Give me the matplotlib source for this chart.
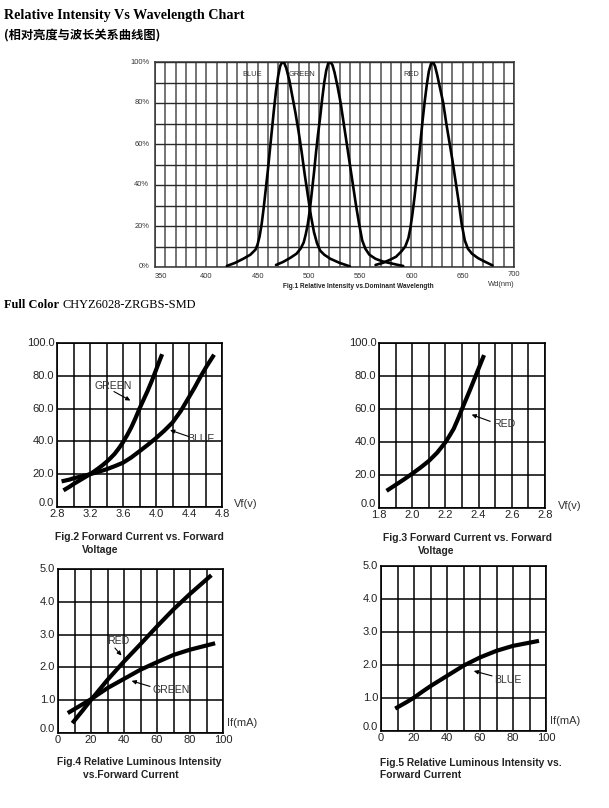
import matplotlib
matplotlib.use("Agg")
import matplotlib.pyplot as plt
import numpy as np

# ---------------- data ----------------
# Fig.1 relative intensity vs dominant wavelength
blue_wl = [420, 428, 436, 443, 448, 450, 452, 454, 456, 458, 460, 462, 464, 466, 468, 470, 472, 474, 476, 478, 481, 484, 487, 490, 493, 496, 499, 502, 505, 508, 511, 515, 521, 530, 540]
blue_int = [0.5, 2, 4, 6, 8.5, 11, 15, 21, 29, 38, 47, 57, 67, 77, 86, 93, 98, 100, 99.5, 97, 91, 83, 75, 66, 56, 45, 35, 25, 17, 11.5, 8, 6, 4, 2, 0.3]
green_wl = [468, 475, 482, 488, 492, 495, 497, 499, 501, 503, 505, 507, 509, 511, 513, 515, 517, 519, 521, 523, 525, 528, 531, 534, 537, 540, 543, 546, 549, 552, 555, 559, 565, 572, 580, 587, 592]
green_int = [1, 2.5, 4.5, 6.5, 9, 12, 16, 21, 28, 37, 46, 56, 65, 73, 82, 90, 96, 99.5, 100, 98.5, 95, 88, 80, 70, 60, 50, 40, 30, 21, 13, 9, 6, 4, 2.7, 1.8, 1, 0.5]
red_wl = [565, 572, 579, 585, 590, 594, 597, 599, 601, 603, 605, 607, 609, 611, 613, 615, 617, 619, 621, 623, 625, 628, 631, 634, 637, 640, 643, 646, 649, 652, 655, 659, 665, 672, 679]
red_int = [1, 2, 3.5, 5, 7.5, 10, 14, 19, 26, 34, 43, 52, 62, 72, 81, 89, 95.5, 99, 100, 98, 94, 87, 80, 70, 61, 52, 42, 32, 21, 13, 9, 6.5, 4.3, 2.5, 0.8]
fig1_xticks = [350, 400, 450, 500, 550, 600, 650, 700]
fig1_yticks = [0, 20, 40, 60, 80, 100]
fig1_ylabels = ["0%", "20%", "40%", "60%", "80%", "100%"]

# Fig.2 forward current vs forward voltage (green, blue)
f2_green_v = [2.90, 2.95, 3.00, 3.05, 3.10, 3.15, 3.20, 3.25, 3.30, 3.35, 3.40, 3.45, 3.50, 3.55, 3.60, 3.65, 3.70, 3.75, 3.80, 3.85, 3.90, 3.95, 4.00, 4.03, 4.065]
f2_green_i = [10.8, 12.3, 14.0, 15.5, 17.0, 18.5, 20.0, 21.7, 23.5, 25.4, 27.5, 29.9, 32.5, 35.8, 39.5, 43.8, 48.5, 54.0, 60.0, 65.5, 71.0, 77.0, 83.5, 87.5, 92.0]
f2_blue_v = [2.88, 2.95, 3.00, 3.10, 3.20, 3.30, 3.40, 3.50, 3.60, 3.70, 3.80, 3.90, 4.00, 4.10, 4.20, 4.30, 4.40, 4.47, 4.54, 4.61, 4.69]
f2_blue_i = [15.9, 16.7, 17.5, 18.7, 20.0, 21.4, 23.0, 24.9, 27.0, 30.2, 34.0, 37.9, 42.0, 46.5, 51.5, 58.5, 67.0, 73.0, 79.5, 85.5, 91.8]
f2_xticks = [2.8, 3.2, 3.6, 4.0, 4.4, 4.8]
f2_yticks = [0, 20, 40, 60, 80, 100]

# Fig.3 forward current vs forward voltage (red)
f3_red_v = [1.856, 1.90, 1.95, 2.00, 2.05, 2.10, 2.15, 2.20, 2.225, 2.25, 2.275, 2.30, 2.325, 2.35, 2.37, 2.39, 2.41, 2.428]
f3_red_i = [11.1, 14.0, 17.3, 20.8, 24.5, 28.5, 33.5, 39.8, 43.8, 48.0, 53.8, 60.0, 66.0, 72.0, 77.0, 82.0, 87.0, 91.5]
f3_xticks = [1.8, 2.0, 2.2, 2.4, 2.6, 2.8]

# Fig.4 relative luminous intensity vs forward current (red, green)
f4_red_if = [9.5, 15, 20, 30, 40, 50, 60, 70, 80, 92]
f4_red_lv = [0.35, 0.69, 1.01, 1.62, 2.18, 2.71, 3.25, 3.77, 4.24, 4.77]
f4_green_if = [7, 10, 15, 20, 25, 30, 40, 50, 60, 70, 80, 94]
f4_green_lv = [0.64, 0.73, 0.88, 1.03, 1.20, 1.37, 1.65, 1.93, 2.16, 2.38, 2.54, 2.72]
f45_xticks = [0, 20, 40, 60, 80, 100]
f45_yticks = [0, 1, 2, 3, 4, 5]

# Fig.5 relative luminous intensity vs forward current (blue)
f5_blue_if = [9.7, 15, 20, 25, 30, 40, 50, 60, 70, 80, 94.5]
f5_blue_lv = [0.71, 0.86, 1.01, 1.19, 1.36, 1.67, 1.98, 2.23, 2.43, 2.58, 2.72]

# ---------------- figure ----------------
W, H = 609, 808
fig = plt.figure(figsize=(W / 100, H / 100), dpi=100)
fig.patch.set_facecolor("white")
renderer = fig.canvas.get_renderer()

SERIF = ["Liberation Serif", "DejaVu Serif"]
SANS = ["Liberation Sans", "DejaVu Sans"]

def px_axes(x0, y0, x1, y1):
    return fig.add_axes([x0 / W, 1 - y1 / H, (x1 - x0) / W, (y1 - y0) / H])

def ftext(x, y, s, **kw):
    return fig.text(x / W, 1 - y / H, s, **kw)

# headings
ftext(4, 15, "Relative Intensity Vs Wavelength Chart", family=SERIF, weight="bold",
      fontsize=10.2, va="center", ha="left")
ftext(4, 35, "(相对亮度与波长关系曲线图)", family=["Noto Sans CJK SC", "DejaVu Sans"],
      weight="bold", fontsize=8.8, va="center", ha="left")
t_fc = ftext(4, 305.5, "Full Color", family=SERIF, weight="bold", fontsize=8.9,
             va="center", ha="left")
fc_right = t_fc.get_window_extent(renderer=renderer).x1
ftext(fc_right + 3.5, 305.5, "CHYZ6028-ZRGBS-SMD", family=SERIF, fontsize=8.9,
      va="center", ha="left")

# ---------------- Fig.1 ----------------
ax1 = px_axes(155, 62, 514, 267)
ax1.set_xlim(350, 700)
ax1.set_ylim(0, 100)
for v in range(350, 701, 10):
    ax1.axvline(v, color="#555555", lw=1.15, zorder=1)
for h in range(0, 101, 10):
    ax1.axhline(h, color="#2a2a2a", lw=1.0, zorder=1)
for sp in ax1.spines.values():
    sp.set_color("#333333")
    sp.set_linewidth(1.1)
ax1.set_xticks([])
ax1.set_yticks([])
for wl, it in ((blue_wl, blue_int), (green_wl, green_int), (red_wl, red_int)):
    ax1.plot(wl, it, color="black", lw=1.9, zorder=3, solid_capstyle="round")
xt = ax1.get_xaxis_transform()
yt = ax1.get_yaxis_transform()
for i, t in enumerate(fig1_xticks):
    xpos = t + 6 if i == 0 else t
    ypos = -0.035 if i == len(fig1_xticks) - 1 else -0.045
    ax1.text(xpos, ypos, str(t), transform=xt, ha="center", va="center",
             fontsize=5.4, color="#333333", family=SANS)
for t, lab in zip(fig1_yticks, fig1_ylabels):
    ax1.text(-0.016, t, lab, transform=yt, ha="right", va="center",
             fontsize=5.4, color="#333333", family=SANS)
ax1.text(444.5, 93.7, "BLUE", ha="center", va="center", fontsize=5.4, color="#333333", family=SANS)
ax1.text(493, 93.7, "GREEN", ha="center", va="center", fontsize=5.4, color="#333333", family=SANS)
ax1.text(599.5, 93.7, "RED", ha="center", va="center", fontsize=5.4, color="#333333", family=SANS)
ax1.text(0.965, -0.085, "Wd(nm)", transform=ax1.transAxes, ha="center", va="center",
         fontsize=5.4, color="#333333", family=SANS)
ftext(358, 287, "Fig.1 Relative Intensity vs.Dominant Wavelength", family=SANS,
      weight="bold", fontsize=4.7, ha="center", va="center", color="#222222")

# ---------------- helper for lower charts ----------------
TICK = dict(fontsize=8.0, color="#222222", family=SANS)

def grid_chart(box, xlim, ylim, xgrid, ygrid, xticks, yticks, xfmt, yfmt):
    ax = px_axes(*box)
    ax.set_xlim(*xlim)
    ax.set_ylim(*ylim)
    for v in xgrid:
        ax.axvline(v, color="black", lw=1.1, zorder=1)
    for h in ygrid:
        ax.axhline(h, color="black", lw=1.1, zorder=1)
    for sp in ax.spines.values():
        sp.set_linewidth(1.2)
    ax.set_xticks([])
    ax.set_yticks([])
    xtr = ax.get_xaxis_transform()
    ytr = ax.get_yaxis_transform()
    for t in xticks:
        ax.text(t, -0.045, xfmt.format(t), transform=xtr, ha="center", va="center", **TICK)
    for i, t in enumerate(yticks):
        ax.annotate(yfmt.format(t), xy=(0, t), xycoords=ytr,
                    xytext=(-2, 3 if i == 0 else 0), textcoords="offset points",
                    ha="right", va="center", **TICK)
    return ax

LW = 3.0
LBL = dict(fontsize=7.6, color="#333333", family=SANS)
CAP = dict(fontsize=7.4, weight="bold", color="#222222", family=SANS, ha="left", va="center")
ARW = dict(arrowstyle="-|>,head_length=0.25,head_width=0.12", color="black", lw=0.8,
           shrinkA=0, shrinkB=0)

def leader(ax, start, end):
    ax.annotate("", xy=end, xytext=start, arrowprops=ARW, zorder=4)

# Fig.2
ax2 = grid_chart((57, 343, 222, 507), (2.8, 4.8), (0, 100),
                 np.arange(2.8, 4.81, 0.2), range(0, 101, 20), f2_xticks, f2_yticks,
                 "{:.1f}", "{:.1f}")
ax2.plot(f2_green_v, f2_green_i, color="black", lw=LW, zorder=3)
ax2.plot(f2_blue_v, f2_blue_i, color="black", lw=LW, zorder=3)
ax2.text(3.25, 74, "GREEN", ha="left", va="center", **LBL)
leader(ax2, (3.49, 70.4), (3.69, 64.9))
ax2.text(4.38, 41.4, "BLUE", ha="left", va="center", **LBL)
leader(ax2, (4.40, 42.9), (4.17, 46.9))
ftext(246, 504, "Vf(v)", fontsize=8.0, color="#333333", family=SANS, ha="center", va="center")
ftext(55, 537, "Fig.2 Forward Current vs. Forward", **CAP)
ftext(82, 550, "Voltage", **CAP)

# Fig.3
ax3 = grid_chart((379, 343, 545, 508), (1.8, 2.8), (0, 100),
                 np.arange(1.8, 2.81, 0.1), range(0, 101, 20), f3_xticks, f2_yticks,
                 "{:.1f}", "{:.1f}")
ax3.plot(f3_red_v, f3_red_i, color="black", lw=LW, zorder=3)
ax3.text(2.485, 51.1, "RED", ha="left", va="center", **LBL)
leader(ax3, (2.47, 52.5), (2.358, 56.6))
ftext(570, 506, "Vf(v)", fontsize=8.0, color="#333333", family=SANS, ha="center", va="center")
ftext(383, 538, "Fig.3 Forward Current vs. Forward", **CAP)
ftext(418, 551, "Voltage", **CAP)

# Fig.4
ax4 = grid_chart((58, 569, 223, 733), (0, 100), (0, 5),
                 range(0, 101, 10), range(0, 6, 1), f45_xticks, f45_yticks,
                 "{:d}", "{:.1f}")
ax4.plot(f4_red_if, f4_red_lv, color="black", lw=LW, zorder=3)
ax4.plot(f4_green_if, f4_green_lv, color="black", lw=LW, zorder=3)
ax4.text(29.5, 2.8, "RED", ha="left", va="center", **LBL)
leader(ax4, (34.5, 2.59), (38.5, 2.36))
ax4.text(57.4, 1.32, "GREEN", ha="left", va="center", **LBL)
leader(ax4, (55.8, 1.42), (44.6, 1.59))
ftext(242, 723, "If(mA)", fontsize=8.0, color="#333333", family=SANS, ha="center", va="center")
ftext(57, 762, "Fig.4 Relative Luminous Intensity", **CAP)
ftext(83, 774.5, "vs.Forward Current", **CAP)

# Fig.5
ax5 = grid_chart((381, 566, 546, 731), (0, 100), (0, 5),
                 range(0, 101, 10), range(0, 6, 1), f45_xticks, f45_yticks,
                 "{:d}", "{:.1f}")
ax5.plot(f5_blue_if, f5_blue_lv, color="black", lw=LW, zorder=3)
ax5.text(68.3, 1.56, "BLUE", ha="left", va="center", **LBL)
leader(ax5, (67.3, 1.67), (56.2, 1.82))
ftext(565, 721, "If(mA)", fontsize=8.0, color="#333333", family=SANS, ha="center", va="center")
ftext(380, 763, "Fig.5 Relative Luminous Intensity vs.", **CAP)
ftext(380, 775.5, "Forward Current", **CAP)

fig.savefig("out.png", dpi=100, facecolor="white")
